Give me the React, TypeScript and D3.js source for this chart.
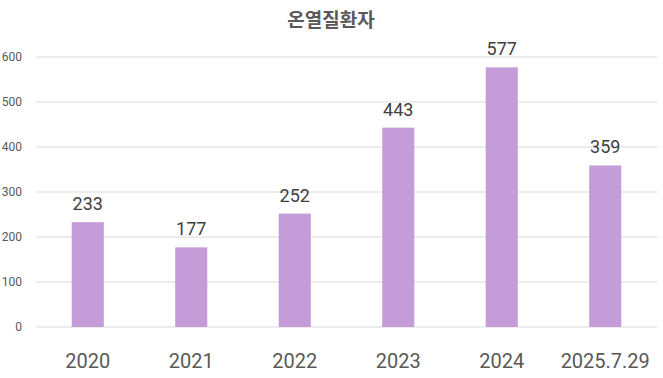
import React from "react";
import * as d3 from "d3";

const categories = ["2020", "2021", "2022", "2023", "2024", "2025.7.29"];
const values = [233, 177, 252, 443, 577, 359];
const yTicks = [0, 100, 200, 300, 400, 500, 600];
const title = "온열질환자";

const W = 663;
const H = 378;

export default function App() {
  const x = d3
    .scaleBand<string>()
    .domain(categories)
    .range([36, 657])
    .paddingInner(0.69)
    .paddingOuter(0.345);
  const y = d3.scaleLinear().domain([0, 600]).range([327, 57]);

  return (
    <svg
      width={W}
      height={H}
      style={{ position: "absolute", left: 0, top: 0, background: "#fff" }}
    >
      <text
        x={331}
        y={27}
        textAnchor="middle"
        fontFamily="'Noto Sans CJK KR', sans-serif"
        fontWeight="bold"
        fontSize={19}
        fill="#595959"
      >
        {title}
      </text>
      {yTicks.map((t) => (
        <g key={t}>
          <line
            x1={36}
            x2={657}
            y1={y(t)}
            y2={y(t)}
            stroke="#d9d9d9"
            strokeWidth={1}
          />
          <text
            x={22}
            y={y(t) + 4}
            textAnchor="end"
            fontFamily="Roboto, sans-serif"
            fontSize={12}
            fill="#595959"
          >
            {t}
          </text>
        </g>
      ))}
      {categories.map((c, i) => (
        <g key={c}>
          <rect
            x={x(c)}
            y={y(values[i])}
            width={x.bandwidth()}
            height={y(0) - y(values[i])}
            fill="#c49cd8"
          />
          <text
            x={(x(c) as number) + x.bandwidth() / 2}
            y={y(values[i]) - 12}
            textAnchor="middle"
            fontFamily="Roboto, sans-serif"
            fontSize={18}
            fill="#404040"
          >
            {values[i]}
          </text>
          <text
            x={(x(c) as number) + x.bandwidth() / 2}
            y={368}
            textAnchor="middle"
            fontFamily="Roboto, sans-serif"
            fontSize={20}
            fill="#595959"
          >
            {c}
          </text>
        </g>
      ))}
    </svg>
  );
}
